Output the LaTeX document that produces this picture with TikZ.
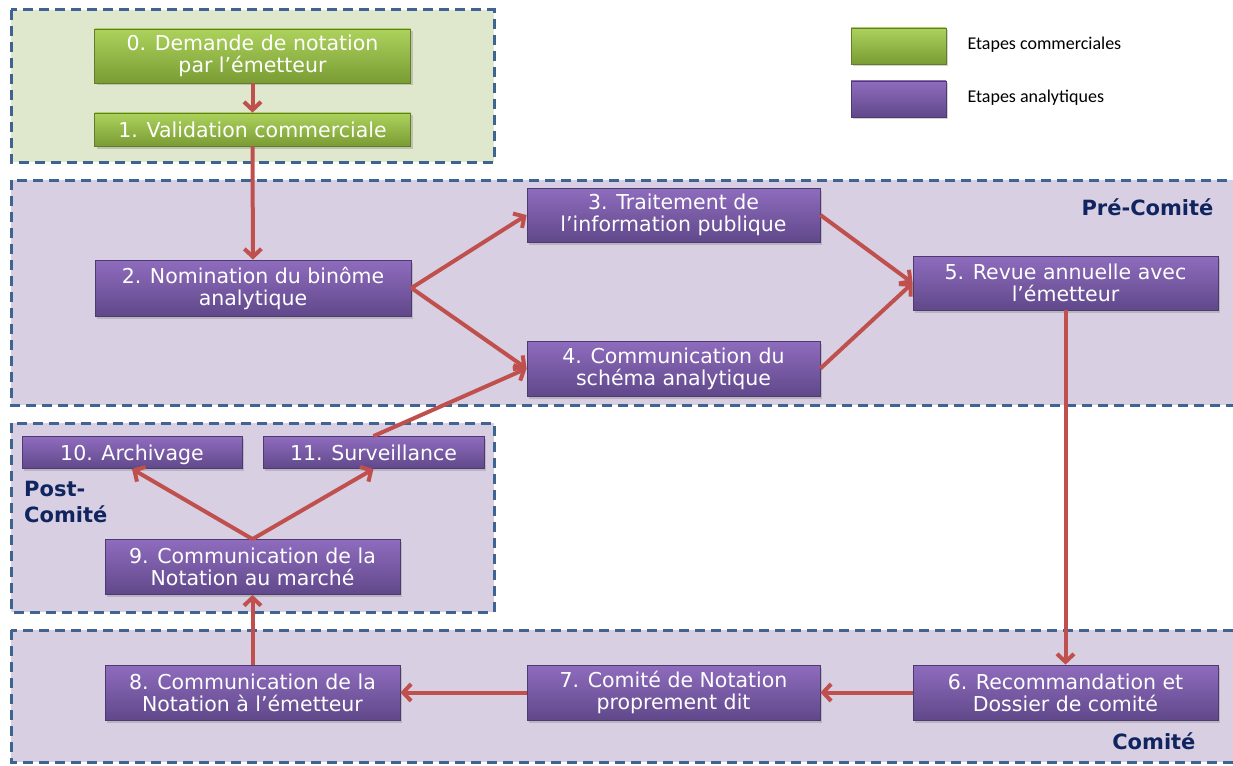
\documentclass[tikz,border=0pt]{standalone}
\usepackage{fontspec}
\setmainfont{DejaVu Sans}
\newfontfamily\legendfont{Carlito}
\usepackage{tikz}
\usetikzlibrary{arrows.meta,shadows}

\definecolor{zoneline}{RGB}{63,100,145}
\definecolor{greenzone}{RGB}{223,231,204}
\definecolor{violetzone}{RGB}{216,208,226}
\definecolor{flow}{RGB}{192,80,77}
\definecolor{violettop}{RGB}{143,108,190}
\definecolor{violetbot}{RGB}{96,72,138}
\definecolor{greentop}{RGB}{172,210,92}
\definecolor{greenbot}{RGB}{122,156,52}
\definecolor{navy}{RGB}{16,37,96}

\begin{document}
\begin{tikzpicture}[x=1pt, y=-1pt,
    zone/.style={draw=zoneline, line width=3pt, dash pattern=on 10pt off 6pt},
    etape/.style={rectangle, draw=violetbot!80!black, line width=0.8pt,
      top color=violettop, bottom color=violetbot, text=white, align=center,
      font=\fontsize{20.5}{22}\selectfont, inner sep=0pt,
      drop shadow={shadow xshift=2pt, shadow yshift=-2.5pt, opacity=0.35}},
    commerce/.style={etape, draw=greenbot!80!black,
      top color=greentop, bottom color=greenbot},
    ligne/.style={text height=17pt, text depth=2pt},
    phase/.style={text=navy, font=\fontsize{21}{26}\selectfont\bfseries, align=left},
    fleche/.style={draw=flow, line width=4pt,
      -{Straight Barb[length=8pt, width=17pt, line width=4pt]}}]

  \useasboundingbox (0, 0) rectangle (1233, 765);
  \clip (0, 0) rectangle (1233, 765);

  % zones
  \draw[zone, fill=greenzone]  (11, 10)  rectangle (494, 162);
  \draw[zone, fill=violetzone] (11, 180) rectangle (1250, 405);
  \draw[zone, fill=violetzone] (11, 423) rectangle (494, 612);
  \draw[zone, fill=violetzone] (11, 630) rectangle (1250, 762);

  \node[phase, anchor=east] (pre) at (1217, 207) {Pré-Comité};
  \node[phase, anchor=north west, inner sep=0pt] (post) at (24, 481) {Post-\\Comité};
  \node[phase, anchor=east] (com) at (1199, 741) {Comité};

  % legend
  \node[commerce, minimum width=95, minimum height=36] (legc) at (898.5, 46) {};
  \node[etape, minimum width=95, minimum height=36] (lega) at (898.5, 99) {};
  \node[anchor=west, font=\legendfont\fontsize{18}{20}\selectfont]
    (legct) at (964, 45) {Etapes commerciales};
  \node[anchor=west, font=\legendfont\fontsize{18}{20}\selectfont]
    (legat) at (964, 98) {Etapes analytiques};

  % steps
  \node[commerce, minimum width=316, minimum height=54]
    (e0) at (252.5, 56) {0. Demande de notation\\par l’émetteur};
  \node[commerce, ligne, minimum width=316, minimum height=33]
    (e1) at (252.5, 129.5) {1. Validation commerciale};

  \node[etape, minimum width=316, minimum height=56]
    (e2) at (253, 288) {2. Nomination du binôme\\analytique};
  \node[etape, minimum width=293, minimum height=54]
    (e3) at (673.5, 215) {3. Traitement de\\l’information publique};
  \node[etape, minimum width=293, minimum height=55]
    (e4) at (673.5, 368.5) {4. Communication du\\schéma analytique};
  \node[etape, minimum width=305, minimum height=54]
    (e5) at (1065.5, 283) {5. Revue annuelle avec\\l’émetteur};

  \node[etape, minimum width=305, minimum height=55]
    (e6) at (1065.5, 692.5) {6. Recommandation et\\Dossier de comité};
  \node[etape, minimum width=293, minimum height=55]
    (e7) at (673.5, 692.5) {7. Comité de Notation\\proprement dit};
  \node[etape, minimum width=295, minimum height=55]
    (e8) at (252.5, 692.5) {8. Communication de la\\Notation à l’émetteur};

  \node[etape, minimum width=295, minimum height=55]
    (e9) at (252.5, 567) {9. Communication de la\\Notation au marché};
  \node[etape, ligne, minimum width=220, minimum height=32]
    (e10) at (132, 452.5) {10. Archivage};
  \node[etape, ligne, minimum width=221, minimum height=32]
    (e11) at (373.5, 452.5) {11. Surveillance};

  % flow
  \draw[fleche] (e0) -- (e1);
  \draw[fleche] (e1) -- (e2);
  \draw[fleche] (e2.east) -- (e3.west);
  \draw[fleche] (e2.east) -- (e4.west);
  \draw[fleche] (e11.north) -- (e4.west);
  \draw[fleche] (e3.east) -- (e5.west);
  \draw[fleche] (e4.east) -- (e5.west);
  \draw[fleche] (e5) -- (e6);
  \draw[fleche] (e6) -- (e7);
  \draw[fleche] (e7) -- (e8);
  \draw[fleche] (e8) -- (e9);
  \draw[fleche] (e9.north) -- (e10.south);
  \draw[fleche] (e9.north) -- (e11.south);
\end{tikzpicture}
\end{document}
